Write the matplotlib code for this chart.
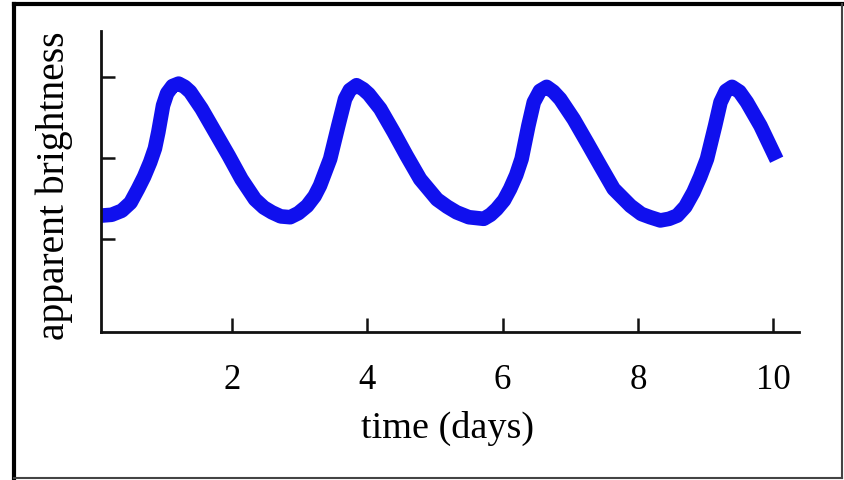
import matplotlib
matplotlib.use('Agg')
import matplotlib.pyplot as plt
from matplotlib.lines import Line2D

# light curve (days, brightness in tick units)
time_days = [0.07, 0.22, 0.37, 0.50, 0.61, 0.70, 0.79, 0.86, 0.91, 0.98, 1.04, 1.12,
             1.21, 1.30, 1.38, 1.55, 1.75, 1.95, 2.14, 2.34, 2.47, 2.59, 2.72, 2.86,
             2.98, 3.11, 3.22, 3.30, 3.45, 3.57, 3.67, 3.74, 3.84, 3.94, 4.02, 4.19,
             4.39, 4.58, 4.78, 5.03, 5.18, 5.32, 5.50, 5.72, 5.82, 5.91, 6.02, 6.11,
             6.20, 6.28, 6.38, 6.46, 6.55, 6.65, 6.75, 6.85, 7.05, 7.25, 7.44, 7.64,
             7.89, 8.05, 8.18, 8.33, 8.46, 8.58, 8.70, 8.82, 8.92, 9.02, 9.14, 9.22,
             9.30, 9.39, 9.50, 9.61, 9.81, 10.05]
brightness = [1.29, 1.30, 1.35, 1.45, 1.62, 1.77, 1.95, 2.12, 2.32, 2.65, 2.80, 2.89,
              2.92, 2.88, 2.82, 2.61, 2.32, 2.03, 1.74, 1.49, 1.39, 1.33, 1.28, 1.27,
              1.32, 1.41, 1.53, 1.66, 1.99, 2.40, 2.73, 2.84, 2.90, 2.85, 2.79, 2.61,
              2.32, 2.03, 1.74, 1.49, 1.40, 1.33, 1.27, 1.25, 1.30, 1.37, 1.48, 1.62,
              1.79, 1.99, 2.40, 2.69, 2.83, 2.88, 2.82, 2.73, 2.48, 2.19, 1.91, 1.62,
              1.41, 1.31, 1.27, 1.23, 1.25, 1.29, 1.40, 1.58, 1.77, 1.99, 2.40, 2.69,
              2.83, 2.88, 2.82, 2.69, 2.40, 1.98]
x_ticks = [2, 4, 6, 8, 10]
y_ticks = [1, 2, 3]

plt.rcParams['font.family'] = ['Liberation Serif', 'DejaVu Serif']

fig = plt.figure(figsize=(8.45, 4.81), dpi=100)
ax = fig.add_axes([101 / 845, 1 - 333 / 481, 698 / 845, 301 / 481])

ax.plot(time_days, brightness, color='#1010ee', lw=10.5, solid_capstyle='butt',
        solid_joinstyle='round')

ax.set_xlim(0.063, 10.38)
ax.set_ylim(-0.148, 3.57)
ax.set_xticks(x_ticks)
ax.set_xticklabels([str(t) for t in x_ticks], fontsize=25)
ax.set_yticks(y_ticks)
ax.set_yticklabels([])
ax.tick_params(direction='in', length=10, width=1.8, color='#111')
ax.tick_params(axis='x', pad=22)
for s in ['top', 'right']:
    ax.spines[s].set_visible(False)
for s in ['left', 'bottom']:
    ax.spines[s].set_linewidth(2.0)
    ax.spines[s].set_color('#111')

ax.set_xlabel('time (days)', fontsize=27.5)
ax.xaxis.set_label_coords(0.497, -0.26)
ax.set_ylabel('apparent brightness', fontsize=28.5)
ax.yaxis.set_label_coords(-0.040, 0.49)

# picture frame round the whole figure
L, R, T, B = 14 / 845, 842 / 845, 1 - 5 / 481, 1 - 479 / 481
fig.add_artist(Line2D([L, R], [T, T], color='black', lw=3, transform=fig.transFigure))
fig.add_artist(Line2D([L, L], [B, T], color='black', lw=3, transform=fig.transFigure))
fig.add_artist(Line2D([R, R], [B, T], color='#444', lw=1.5, transform=fig.transFigure))
fig.add_artist(Line2D([L, R], [B, B], color='#444', lw=1.5, transform=fig.transFigure))

fig.savefig('out.png', dpi=100)
